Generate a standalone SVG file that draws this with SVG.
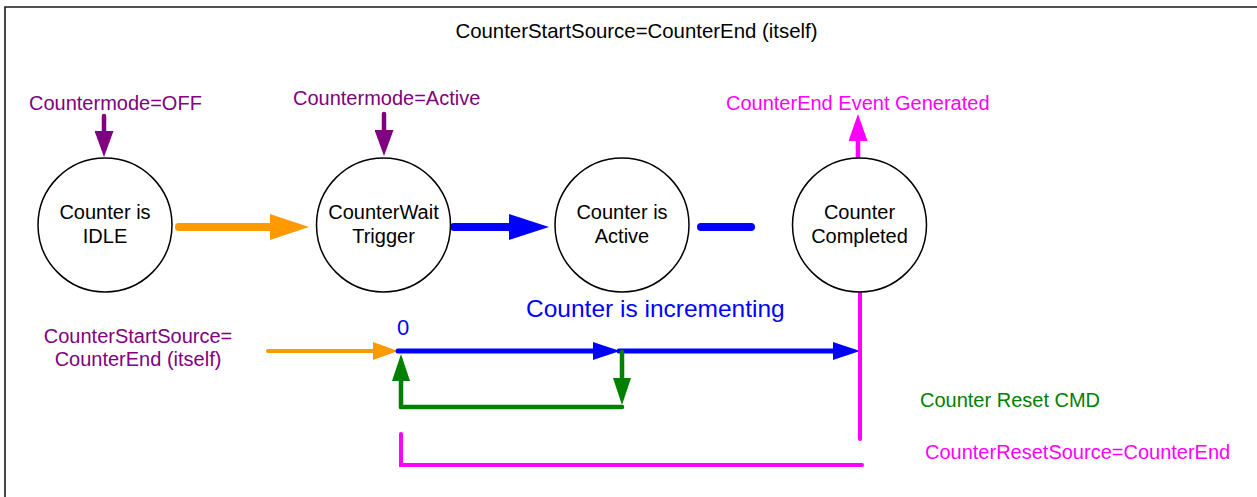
<svg xmlns="http://www.w3.org/2000/svg" width="1257" height="497" viewBox="0 0 1257 497">
<style>
text{font-family:"Liberation Sans",Arial,sans-serif;font-size:20px}
.c{text-anchor:middle}
.node ellipse{fill:#fff;stroke:#000;stroke-width:1.5}
.lbl{fill:#000}
.pur{fill:#800080}
.mag{fill:#ff00ff}
.blu{fill:#0000ff}
.grn{fill:#008000}
.ln{fill:none;stroke-linecap:round}
</style>
<defs>
<marker id="hOrBig" markerUnits="userSpaceOnUse" viewBox="0 0 39 26" refX="1" refY="13" markerWidth="39" markerHeight="26" orient="auto"><path d="M0,0L39,13L0,26z" fill="#ff9900"/></marker>
<marker id="hBlBig" markerUnits="userSpaceOnUse" viewBox="0 0 40 26" refX="1" refY="13" markerWidth="40" markerHeight="26" orient="auto"><path d="M0,0L40,13L0,26z" fill="#0000ff"/></marker>
<marker id="hPur" markerUnits="userSpaceOnUse" viewBox="0 0 26 19" refX="1" refY="9.5" markerWidth="26" markerHeight="19" orient="auto"><path d="M0,0L26,9.5L0,19z" fill="#800080"/></marker>
<marker id="hMag" markerUnits="userSpaceOnUse" viewBox="0 0 27 19" refX="1" refY="9.5" markerWidth="27" markerHeight="19" orient="auto"><path d="M0,0L27,9.5L0,19z" fill="#ff00ff"/></marker>
<marker id="hOrSm" markerUnits="userSpaceOnUse" viewBox="0 0 25 18" refX="1" refY="9" markerWidth="25" markerHeight="18" orient="auto"><path d="M0,0L25,9L0,18z" fill="#ff9900"/></marker>
<marker id="hBlSm" markerUnits="userSpaceOnUse" viewBox="0 0 27 18" refX="1" refY="9" markerWidth="27" markerHeight="18" orient="auto"><path d="M0,0L27,9L0,18z" fill="#0000ff"/></marker>
<marker id="hGrn" markerUnits="userSpaceOnUse" viewBox="0 0 27 18" refX="1" refY="9" markerWidth="27" markerHeight="18" orient="auto"><path d="M0,0L27,9L0,18z" fill="#008000"/></marker>
</defs>
<rect width="1257" height="497" fill="#fff"/>
<path d="M5,497V7H1257" fill="none" stroke="#1a1a1a" stroke-width="1.6"/>
<text class="c lbl" x="636.5" y="38" style="font-size:20.4px">CounterStartSource=CounterEnd (itself)</text>

<g id="connectors">
<path class="ln" d="M104,116V132" stroke="#800080" stroke-width="4.5" marker-end="url(#hPur)"/>
<path class="ln" d="M384,114V131" stroke="#800080" stroke-width="4.5" marker-end="url(#hPur)"/>
<path class="ln" d="M858,158V140" stroke="#ff00ff" stroke-width="4.5" marker-end="url(#hMag)"/>
<path class="ln" d="M179,227H271" stroke="#ff9900" stroke-width="8" marker-end="url(#hOrBig)"/>
<path class="ln" d="M454,227H510" stroke="#0000ff" stroke-width="8" marker-end="url(#hBlBig)"/>
<path class="ln" d="M701,227H751" stroke="#0000ff" stroke-width="8"/>
<path class="ln" d="M268,351H374" stroke="#ff9900" stroke-width="4" marker-end="url(#hOrSm)"/>
<path class="ln" d="M398,351H594" stroke="#0000ff" stroke-width="5" marker-end="url(#hBlSm)"/>
<path class="ln" d="M619,351H834" stroke="#0000ff" stroke-width="5" marker-end="url(#hBlSm)"/>
<path class="ln" d="M401,407H622" stroke="#008000" stroke-width="4.5"/>
<path class="ln" d="M401,407V380" stroke="#008000" stroke-width="4.5" marker-end="url(#hGrn)"/>
<path class="ln" d="M622,352V379" stroke="#008000" stroke-width="4.5" marker-end="url(#hGrn)"/>
<path class="ln" d="M860,293V439" stroke="#ff00ff" stroke-width="4"/>
<path class="ln" d="M401,434V465H862" stroke="#ff00ff" stroke-width="4"/>
</g>

<g id="node-idle" class="node">
<ellipse cx="105" cy="225" rx="67" ry="67"/>
<text class="c lbl" x="105" y="219">Counter is</text>
<text class="c lbl" x="105" y="243">IDLE</text>
</g>
<g id="node-wait" class="node">
<ellipse cx="383.5" cy="225" rx="67" ry="67"/>
<text class="c lbl" x="383.5" y="219">CounterWait</text>
<text class="c lbl" x="383.5" y="243">Trigger</text>
</g>
<g id="node-active" class="node">
<ellipse cx="622" cy="225" rx="67" ry="67"/>
<text class="c lbl" x="622" y="219">Counter is</text>
<text class="c lbl" x="622" y="243">Active</text>
</g>
<g id="node-completed" class="node">
<ellipse cx="859.5" cy="225" rx="67" ry="67"/>
<text class="c lbl" x="859.5" y="219">Counter</text>
<text class="c lbl" x="859.5" y="243">Completed</text>
</g>

<g id="labels">
<text class="pur" x="29" y="110">Countermode=OFF</text>
<text class="pur" x="293" y="105">Countermode=Active</text>
<text class="mag" x="726" y="110">CounterEnd Event Generated</text>
<text class="blu" x="526" y="317" style="font-size:24.5px">Counter is incrementing</text>
<text class="blu" x="397" y="335" style="font-size:22px">0</text>
<text class="c pur" x="138" y="343">CounterStartSource=</text>
<text class="c pur" x="138" y="366">CounterEnd (itself)</text>
<text class="grn" x="920" y="407">Counter Reset CMD</text>
<text class="mag" x="925" y="459">CounterResetSource=CounterEnd</text>
</g>
</svg>
